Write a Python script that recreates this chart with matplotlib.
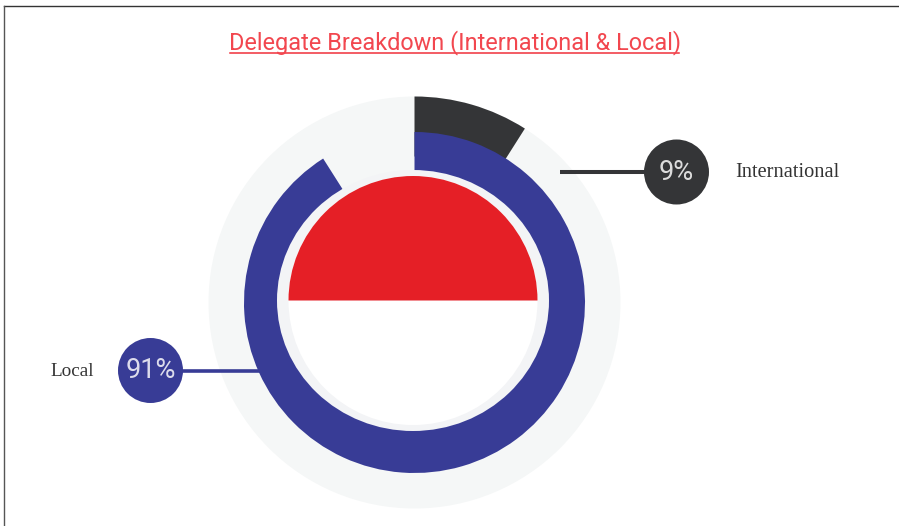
import matplotlib
matplotlib.use('Agg')
import matplotlib.pyplot as plt
from matplotlib.patches import Circle, Ellipse, Wedge

labels = ['International', 'Local']
shares = [9, 91]
title = 'Delegate Breakdown (International & Local)'

DARK = '#343537'
BLUE = '#383c96'
RED = '#e51f26'
PALE = '#f5f7f7'
RING = '#f3f4f6'
H = 526

fig = plt.figure(figsize=(8.99, 5.26), dpi=100)
ax = fig.add_axes([0, 0, 1, 1])

# flip y so positions can be read straight off the picture
def py(y):
    return H - y

cx, cy = 414.5, py(302.5)

# pale backing disc
ax.add_patch(Circle((cx, cy), 206, fc=PALE, ec='none'))

# dark ring goes 9% clockwise from the top, blue ring the other 91%
ax.pie([shares[0], shares[1]], colors=[DARK, 'none'], startangle=90, counterclock=False,
       center=(cx, cy), radius=206, wedgeprops={'width': 60, 'linewidth': 0}, frame=True)
ax.pie([shares[1], shares[0]], colors=[BLUE, 'none'], startangle=90, counterclock=False,
       center=(cx, cy), radius=170.5, wedgeprops={'width': 45, 'linewidth': 0}, frame=True)

# inner ring and half filled disc
ax.add_patch(Ellipse((413, py(300.5)), 272, 261, fc=RING, ec='none'))
ax.add_patch(Circle((413, py(300.5)), 124.5, fc='white', ec='none'))
ax.add_patch(Wedge((413, py(300.5)), 124.5, 0, 180, fc=RED, ec='none'))

# connectors and bubbles
ax.plot([560, 650], [py(172), py(172)], color=DARK, lw=2.9, solid_capstyle='butt')
ax.plot([180, 262], [py(370.5), py(370.5)], color=BLUE, lw=2.6, solid_capstyle='butt')
ax.add_patch(Circle((676.5, py(172)), 32.5, fc=DARK, ec='none'))
ax.add_patch(Circle((150.5, py(370.5)), 32.5, fc=BLUE, ec='none'))

ax.text(676, py(172), f'{shares[0]}%', color='#dcdcdc', fontsize=19.5, family='Roboto',
        ha='center', va='center')
ax.text(150.5, py(370.5), f'{shares[1]}%', color='#dcdcec', fontsize=19.5, family='Roboto',
        ha='center', va='center')
ax.text(735, py(172.5), labels[0], color='#333333', fontsize=14.7, family='Liberation Serif',
        ha='left', va='center')
ax.text(50, py(371.5), labels[1], color='#333333', fontsize=13.8, family='Liberation Serif',
        ha='left', va='center')

# title with its underline
ax.text(455, py(43), title, color='#f2474f', fontsize=16.9, family='Roboto',
        ha='center', va='center')
ax.plot([230, 679], [py(52.5), py(52.5)], color='#f0303a', lw=1.1)

# frame on the top and left only
ax.plot([4, 899], [py(6), py(6)], color='#333333', lw=1)
ax.plot([4, 4], [py(6), 0], color='#555555', lw=1)

ax.set_xlim(0, 899)
ax.set_ylim(0, H)
ax.set_aspect('equal')
ax.axis('off')

plt.savefig('out.png', dpi=100)
